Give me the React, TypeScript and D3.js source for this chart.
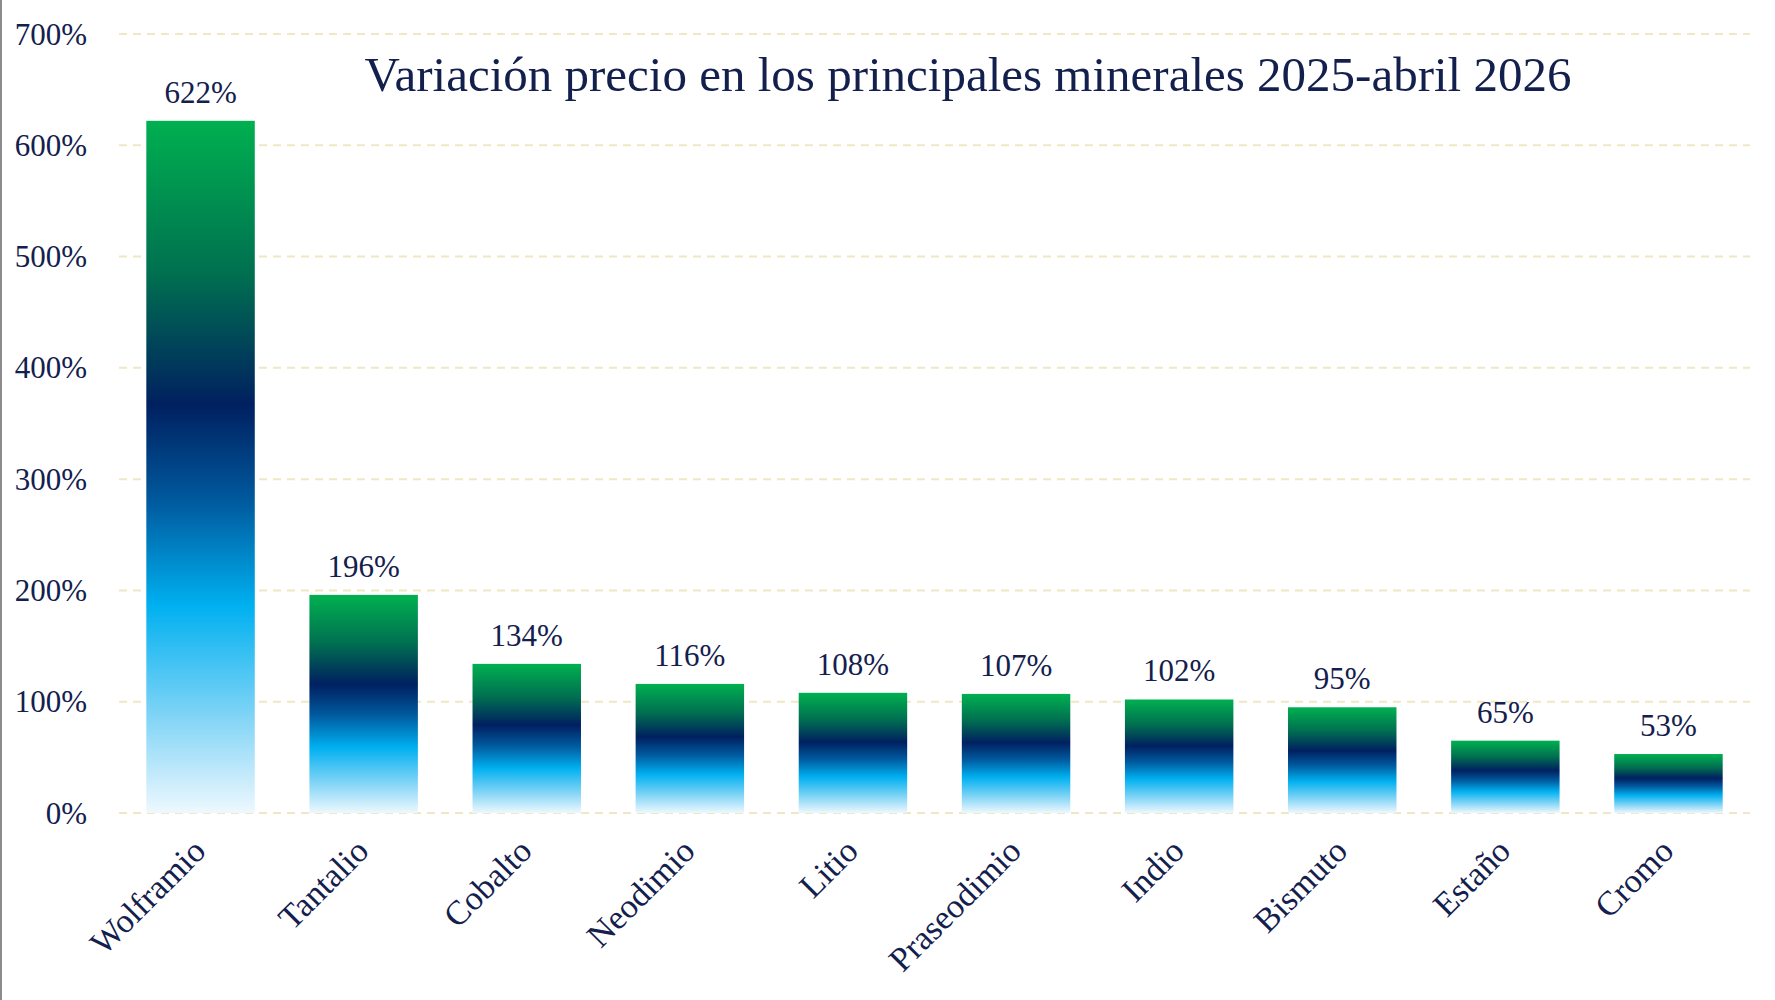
import React from "react";
import * as d3 from "d3";

const minerals = ["Wolframio", "Tantalio", "Cobalto", "Neodimio", "Litio", "Praseodimio", "Indio", "Bismuto", "Estaño", "Cromo"];
const variation = [622, 196, 134, 116, 108, 107, 102, 95, 65, 53];
const yTicks = [0, 100, 200, 300, 400, 500, 600, 700];
const title = "Variación precio en los principales minerales 2025-abril 2026";

const W = 1775;
const H = 1000;
const FONT = "'Palatino Linotype', 'Book Antiqua', Palatino, 'Liberation Serif', serif";
const INK = "#13204d";

export default function App() {
    const margin = { left: 119, right: 25, top: 34, bottom: 187 };

    const x = d3.scaleBand<string>()
        .domain(minerals)
        .range([margin.left, W - margin.right])
        .paddingInner(0.335)
        .paddingOuter(0.1675);

    const y = d3.scaleLinear()
        .domain([0, 700])
        .range([H - margin.bottom, margin.top]);

    const data = minerals.map((m, i) => ({ name: m, value: variation[i] }));

    return (
        <svg width={W} height={H} style={{ position: "absolute", left: 0, top: 0, background: "#fff" }}>
            <defs>
                <linearGradient id="barGrad" x1="0" y1="0" x2="0" y2="1">
                    <stop offset="0%" stopColor="#00b050" />
                    <stop offset="22%" stopColor="#007050" />
                    <stop offset="41%" stopColor="#002060" />
                    <stop offset="55%" stopColor="#005a9e" />
                    <stop offset="70%" stopColor="#00b0f0" />
                    <stop offset="86%" stopColor="#80d4f6" />
                    <stop offset="100%" stopColor="#eef8fe" />
                </linearGradient>
            </defs>

            <line x1={1} x2={1} y1={0} y2={H} stroke="#8c8c8c" strokeWidth={2} />

            {/* grid */}
            {yTicks.map(t => (
                <line key={t}
                    x1={margin.left} x2={W - margin.right}
                    y1={y(t)} y2={y(t)}
                    stroke="#f0e7c4" strokeWidth={2} strokeDasharray="8 6" />
            ))}

            {/* y tick labels */}
            {yTicks.map(t => (
                <text key={t} x={87} y={y(t)} textAnchor="end" dominantBaseline="central"
                    fontFamily={FONT} fontSize={31} fill={INK}>{`${t}%`}</text>
            ))}

            {/* bars */}
            {data.map(d => (
                <rect key={d.name}
                    x={x(d.name)} y={y(d.value)}
                    width={x.bandwidth()} height={y(0) - y(d.value)}
                    fill="url(#barGrad)" />
            ))}

            {/* value labels */}
            {data.map(d => (
                <text key={d.name} x={x(d.name)! + x.bandwidth() / 2} y={y(d.value) - 18}
                    textAnchor="middle" fontFamily={FONT} fontSize={31} fill={INK}>{`${d.value}%`}</text>
            ))}

            {/* category labels */}
            {data.map(d => {
                const cx = x(d.name)! + x.bandwidth() / 2 + 7;
                const cy = y(0) + 40;
                return (
                    <text key={d.name} transform={`translate(${cx},${cy}) rotate(-45)`}
                        textAnchor="end" fontFamily={FONT} fontSize={34} fill={INK}>{d.name}</text>
                );
            })}

            <text x={968} y={91} textAnchor="middle" fontFamily={FONT} fontSize={49} fill={INK}>{title}</text>
        </svg>
    );
}
